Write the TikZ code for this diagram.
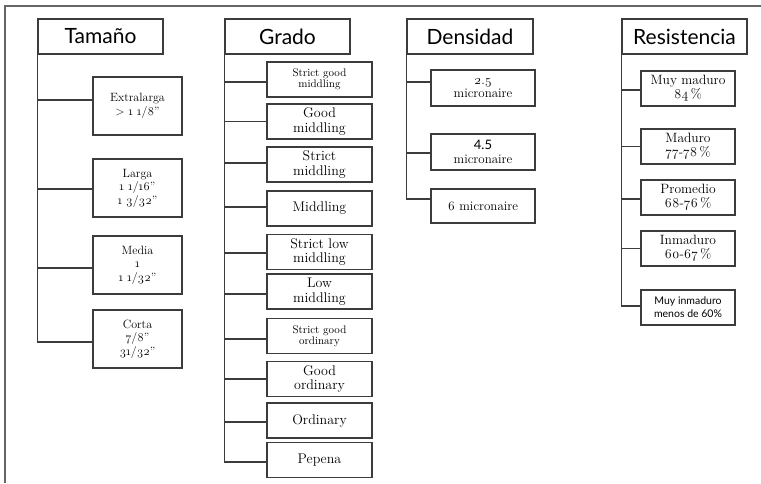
\documentclass[tikz,border=0pt]{standalone}
\usepackage{fontspec}
\setmainfont{Latin Modern Roman}[Numbers=OldStyle]
\newfontfamily\hfont{Lato}
\definecolor{lc}{HTML}{3C3C3C}
\definecolor{fc}{HTML}{666666}
\tikzset{
  hdr/.style={draw=lc, line width=1.5pt, minimum width=125pt, minimum height=35pt, inner sep=0pt, font=\hfont\fontsize{21}{21}\selectfont},
  itm/.style={draw=lc, line width=1.5pt, inner sep=0pt, align=center, font=\fontsize{12}{13.5}\selectfont},
  tn/.style={lc, line width=1.5pt},
  tk/.style={lc, line width=2.6pt},
}
\begin{document}
\begin{tikzpicture}[x=1pt,y=-1pt]
\useasboundingbox (0,0) rectangle (761,483);
\draw[fc, line width=1.5pt] (5,483) -- (5,6) -- (761,6);
% Tamaño
\node[hdr] (t) at (100.5,36.5) {Tamaño};
\begin{scope}[every node/.append style={itm, minimum width=89pt, minimum height=58pt}]
\node (t1) at (137.5,106) {Extralarga\\> 1 1/8”};
\node (t2) at (137.5,188) {Larga\\1 1/16”\\1 3/32”};
\node (t3) at (137.5,265) {Media\\1\\1 1/32”};
\node (t4) at (137.5,339) {Corta\\7/8”\\31/32”};
\end{scope}
\draw[tn] (t.south west) |- ([yshift=-3pt]t4.west);
\draw[tn] ([yshift=6pt]t.south west |- t1.west) -- ([yshift=6pt]t1.west);
\draw[tn] ([yshift=-1pt]t.south west |- t2.west) -- ([yshift=-1pt]t2.west);
\draw[tk] ([yshift=-3pt]t.south west |- t3.west) -- ([yshift=-3pt]t3.west);
% Grado
\node[hdr] (g) at (287.5,36.5) {Grado};
\begin{scope}[every node/.append style={itm, minimum width=105pt, minimum height=35pt, font=\fontsize{14}{14.5}\selectfont}]
\node[font=\fontsize{11}{11.5}\selectfont] (g1) at (319.5,79.5) {Strict good\\middling};
\node (g2) at (319.5,121.5) {Good\\middling};
\node (g3) at (319.5,164.5) {Strict\\middling};
\node (g4) at (319.5,208.5) {Middling};
\node (g5) at (319.5,252) {Strict low\\middling};
\node (g6) at (319.5,291.5) {Low\\middling};
\node[font=\fontsize{11}{11.5}\selectfont] (g7) at (319.5,336) {Strict good\\ordinary};
\node (g8) at (319.5,379) {Good\\ordinary};
\node (g9) at (319.5,420.5) {Ordinary};
\node (g10) at (319.5,460) {Pepena};
\end{scope}
\draw[tn] (g.south west) |- ([yshift=-2pt]g10.west);
\draw[tn] ([yshift=-2.5pt]g.south west |- g1.west) -- ([yshift=-2.5pt]g1.west);
\draw[tn] (g.south west |- g2.west) -- (g2.west);
\draw[tk] ([yshift=1.5pt]g.south west |- g3.west) -- ([yshift=1.5pt]g3.west);
\draw[tn] ([yshift=1.5pt]g.south west |- g4.west) -- ([yshift=1.5pt]g4.west);
\draw[tn] ([yshift=-1pt]g.south west |- g5.west) -- ([yshift=-1pt]g5.west);
\draw[tk] ([yshift=-2.5pt]g.south west |- g6.west) -- ([yshift=-2.5pt]g6.west);
\draw[tn] ([yshift=-3pt]g.south west |- g7.west) -- ([yshift=-3pt]g7.west);
\draw[tk] (g.south west |- g8.west) -- (g8.west);
\draw[tk] ([yshift=-1.5pt]g.south west |- g9.west) -- ([yshift=-1.5pt]g9.west);
% Densidad
\node[hdr, minimum width=126pt] (d) at (470,36.5) {Densidad};
\begin{scope}[every node/.append style={itm, minimum width=104pt, minimum height=36pt, font=\fontsize{13}{13.5}\selectfont}]
\node (d1) at (483,88) {2.5\\micronaire};
\node (d2) at (483,152) {{\hfont 4.5}\\micronaire};
\node[minimum height=34pt] (d3) at (483,206) {6 micronaire};
\end{scope}
\draw[tn] (d.south west) |- ([yshift=7pt]d3.west);
\draw[tk] ([yshift=6pt]d.south west |- d1.west) -- ([yshift=6pt]d1.west);
\draw[tk] ([yshift=-1pt]d.south west |- d2.west) -- ([yshift=-1pt]d2.west);
% Resistencia
\node[hdr] (r) at (684.5,36.5) {Resistencia};
\begin{scope}[every node/.append style={itm, minimum width=94pt, minimum height=35pt, font=\fontsize{13.5}{14}\selectfont}]
\node (r1) at (688,88.5) {Muy maduro\\84\,\%};
\node (r2) at (688,146.5) {Maduro\\77-78\,\%};
\node (r3) at (688,197.5) {Promedio\\68-76\,\%};
\node (r4) at (688,248.5) {Inmaduro\\60-67\,\%};
\node[font=\hfont\fontsize{10.5}{13}\selectfont] (r5) at (688,307.5) {Muy inmaduro\\menos de 60\%};
\end{scope}
\draw[tn] (r.south west) |- ([yshift=1.5pt]r5.west);
\draw[tn] ([yshift=-1.5pt]r.south west |- r1.west) -- ([yshift=-1.5pt]r1.west);
\draw[tn] (r.south west |- r2.west) -- (r2.west);
\draw[tk] ([yshift=-1.5pt]r.south west |- r3.west) -- ([yshift=-1.5pt]r3.west);
\draw[tn] (r.south west |- r4.west) -- (r4.west);
\end{tikzpicture}
\end{document}
